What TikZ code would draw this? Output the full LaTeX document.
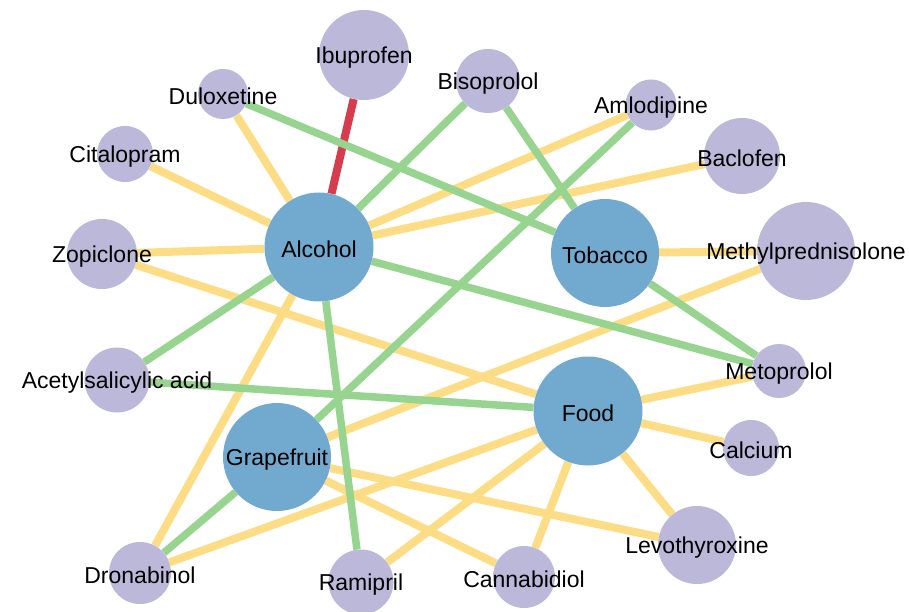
\documentclass[tikz,border=0pt]{standalone}
\usepackage{fontspec}
\setmainfont{Liberation Sans}
\usetikzlibrary{backgrounds}
\definecolor{drugc}{HTML}{BCB8D9}
\definecolor{substc}{HTML}{72AACF}
\definecolor{modc}{HTML}{FCDD85}
\definecolor{minc}{HTML}{96D48F}
\definecolor{majc}{HTML}{D63C4E}

\begin{document}
\begin{tikzpicture}
    [x=1pt, y=-1pt,
     drug/.style={circle, fill=drugc, inner sep=0pt},
     subst/.style={circle, fill=substc, inner sep=0pt},
     major/.style={draw=majc, line width=8pt},
     moder/.style={draw=modc, line width=8pt},
     minor/.style={draw=minc, line width=7.5pt},
     every label/.style={font=\fontsize{23}{27}\selectfont, inner sep=0pt, yshift=-2.5pt}]

    \useasboundingbox (0,0) rectangle (909,612);

    \node [drug, minimum size=90pt, label=center:{Ibuprofen}] (ibu) at (364,55) {};
    \node [drug, minimum size=50pt, label=center:{Duloxetine}] (dul) at (223,94) {};
    \node [drug, minimum size=56pt, label=center:{Citalopram}] (cit) at (125,154) {};
    \node [drug, minimum size=70pt, label=center:{Zopiclone}] (zop) at (102,254) {};
    \node [drug, minimum size=64pt, label=center:{Bisoprolol}] (bis) at (488,81) {};
    \node [drug, minimum size=51pt, label=center:{Amlodipine}] (aml) at (651,105) {};
    \node [drug, minimum size=76pt, label=center:{Baclofen}] (bac) at (742,156) {};
    \node [drug, minimum size=98pt, label=center:{Methylprednisolone}] (met) at (806,251) {};
    \node [drug, minimum size=65pt, label=center:{Acetylsalicylic acid}] (asa) at (117,380) {};
    \node [drug, minimum size=62pt, label=center:{Dronabinol}] (dro) at (140,573) {};
    \node [drug, minimum size=65pt, label=center:{Ramipril}] (ram) at (361,582) {};
    \node [drug, minimum size=54pt, label=center:{Metoprolol}] (mto) at (779,371) {};
    \node [drug, minimum size=56pt, label=center:{Calcium}] (cal) at (751,448) {};
    \node [drug, minimum size=78pt, label=center:{Levothyroxine}] (lev) at (697,545) {};
    \node [drug, minimum size=62pt, label=center:{Cannabidiol}] (can) at (524,577) {};

    \node [subst, minimum size=109pt, label=center:{Alcohol}] (alc) at (319,247) {};
    \node [subst, minimum size=108pt, label=center:{Tobacco}] (tob) at (605,253) {};
    \node [subst, minimum size=109pt, label=center:{Food}] (food) at (588,411) {};
    \node [subst, minimum size=108pt, label=center:{Grapefruit}] (gra) at (277,457) {};

    \begin{scope}[on background layer]
    \fill [white] (0,0) rectangle (909,612);

    \draw [major] (alc) -- (ibu);

    \draw [moder] (alc) -- (dul);
    \draw [moder] (alc) -- (cit);
    \draw [moder] (alc) -- (zop);
    \draw [moder] (alc) -- (aml);
    \draw [moder] (alc) -- (bac);
    \draw [moder] (alc) -- (dro);
    \draw [moder] (zop) -- (food);
    \draw [moder] (tob) -- (met);
    \draw [moder] (gra) -- (met);
    \draw [moder] (gra) -- (lev);
    \draw [moder] (gra) -- (can);
    \draw [moder] (food) -- (mto);
    \draw [moder] (food) -- (cal);
    \draw [moder] (food) -- (lev);
    \draw [moder] (food) -- (can);
    \draw [moder] (food) -- (ram);
    \draw [moder] (food) -- (dro);

    \draw [minor] (alc) -- (bis);
    \draw [minor] (alc) -- (mto);
    \draw [minor] (alc) -- (asa);
    \draw [minor] (alc) -- (ram);
    \draw [minor] (dul) -- (tob);
    \draw [minor] (bis) -- (tob);
    \draw [minor] (tob) -- (mto);
    \draw [minor] (aml) -- (gra);
    \draw [minor] (asa) -- (food);
    \draw [minor] (gra) -- (dro);
    \end{scope}
\end{tikzpicture}
\end{document}
